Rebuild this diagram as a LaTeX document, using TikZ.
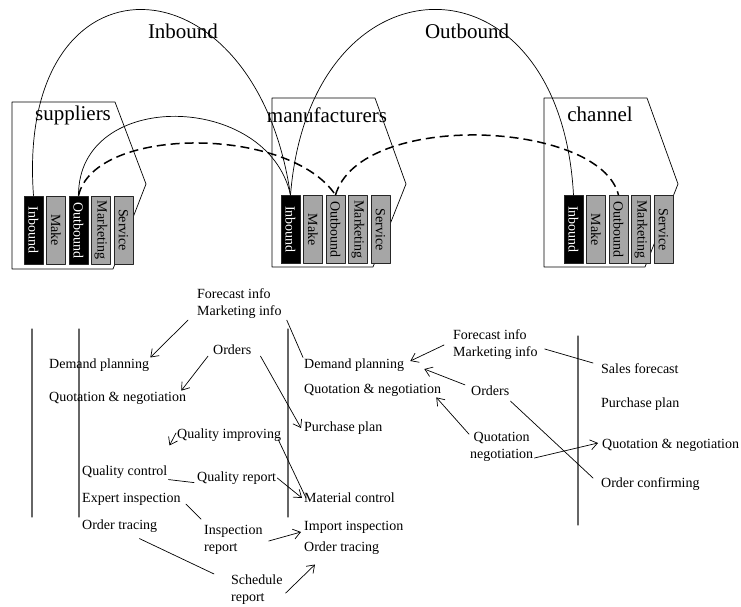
\documentclass[tikz,border=0pt]{standalone}
\usepackage{fontspec}
\setmainfont{Liberation Serif}
\usetikzlibrary{arrows.meta}

\begin{document}
\begin{tikzpicture}[x=1pt,y=-1pt,line cap=round,line join=round,
    >={Straight Barb[length=7pt,width=10pt]},
    lbl/.style={font=\fontsize{21}{25}\selectfont,inner sep=0pt},
    txt/.style={font=\fontsize{14}{17}\selectfont,inner sep=1pt,anchor=west},
    bar/.style={draw=black!85,line width=0.8pt,rotate=-90,minimum width=68pt,minimum height=19pt,inner sep=0pt,font=\fontsize{14}{14}\selectfont},
    dark/.style={bar,fill=black,text=white},
    light/.style={bar,fill=black!35},
    flow/.style={line width=0.7pt},
    dashflow/.style={line width=1.5pt,line cap=butt,dash pattern=on 9pt off 5pt},
    lane/.style={line width=1.2pt,black!60}]
    \useasboundingbox (0,0) rectangle (741,606);
    % the three partner boxes
    \foreach \L/\T/\B in {12/102/269, 272/98/267, 544/98/267}
        \draw[flow] (\L,\T) -- (\L+103,\T) -- (\L+134,184) -- (\L+101,\B) -- (\L,\B) -- cycle;
    \node[lbl] (sup) at (73,115) {suppliers};
    \node[lbl] (man) at (327,115) {manufacturers};
    \node[lbl] (chan) at (600,114) {channel};
    \foreach \nm/\tx/\st [count=\i from 0] in {In/Inbound/dark, Mk/Make/light, Out/Outbound/dark, Mt/Marketing/light, Sv/Service/light}
        \node[\st] (s\nm) at (33.5+22.5*\i,230) {\tx};
    \foreach \nm/\tx/\st [count=\i from 0] in {In/Inbound/dark, Mk/Make/light, Out/Outbound/light, Mt/Marketing/light, Sv/Service/light}
        \node[\st] (m\nm) at (290.5+22.5*\i,229.5) {\tx};
    \foreach \nm/\tx/\st [count=\i from 0] in {In/Inbound/dark, Mk/Make/light, Out/Outbound/light, Mt/Marketing/light, Sv/Service/light}
        \node[\st] (c\nm) at (573.5+22.5*\i,229.5) {\tx};
    % flows between the partners
    \node[lbl] (inb) at (183,31) {Inbound};
    \node[lbl] (outb) at (467,31) {Outbound};
    \draw[flow] (sIn.west) .. controls (15,-55) and (255,-50) .. (mIn.west);
    \draw[flow] (mIn.west) .. controls (310,-50) and (560,-55) .. (cIn.west);
    \draw[flow] (sOut.west) .. controls (78,88) and (268,92) .. (mIn.west);
    \draw[dashflow] (sOut.west) .. controls (95,125) and (290,126) .. (mOut.west);
    \draw[dashflow] (mOut.west) .. controls (360,110) and (600,120) .. (cOut.west);
    % lanes
    \draw[lane] (32,329) -- (32,517);
    \draw[lane] (79,329) -- (79,517);
    \draw[lane] (288,329) -- (288,517);
    \draw[lane] (578,336) -- (578,525);
    % supplier activities
    \node[txt] (dp1) at (48,365) {Demand planning};
    \node[txt] (qn1) at (48,398) {Quotation \& negotiation};
    \node[txt] (qc) at (81,472) {Quality control};
    \node[txt] (ei) at (81,499) {Expert inspection};
    \node[txt] (ot1) at (81,526) {Order tracing};
    \node[txt,align=left] (fm1) at (196,304) {Forecast info\\Marketing info};
    \node[txt] (or1) at (212,350) {Orders};
    \node[txt] (qi) at (176,435) {Quality improving};
    \node[txt] (qr) at (196,478) {Quality report};
    \node[txt,align=left] (ir) at (203,540) {Inspection\\report};
    \node[txt,align=left] (sr) at (230,590) {Schedule\\report};
    % manufacturer activities
    \node[txt] (dp2) at (303,365) {Demand planning};
    \node[txt] (qn2) at (303,390) {Quotation \& negotiation};
    \node[txt] (pp1) at (303,428) {Purchase plan};
    \node[txt] (mc) at (303,498) {Material control};
    \node[txt] (ii) at (303,527) {Import inspection};
    \node[txt] (ot2) at (303,548) {Order tracing};
    \node[txt,align=left] (fm2) at (452,345) {Forecast info\\Marketing info};
    \node[txt] (or2) at (470,391) {Orders};
    \node[txt,align=center] (qn3) at (469,447) {Quotation\\negotiation};
    % channel activities
    \node[txt] (sf) at (600,369) {Sales forecast};
    \node[txt] (pp2) at (600,404) {Purchase plan};
    \node[txt] (qn4) at (601,445) {Quotation \& negotiation};
    \node[txt] (oc) at (600,484) {Order confirming};
    % information links
    \draw[flow,->] ([xshift=-8pt]fm1.south west) -- (dp1.north east);
    \draw[flow,->] ([xshift=-4pt]or1.south west) -- ([xshift=-6pt]qn1.north east);
    \draw[flow,->] ([xshift=8pt]or1.south east) -- ([xshift=-2pt]pp1.west);
    \draw[flow] ([xshift=4pt]fm1.south east) -- (dp2.north west);
    \draw[flow,->] ([yshift=2pt]qi.west) -- ([xshift=1pt,yshift=19pt]qc.north east);
    \draw[flow] ([xshift=-4pt,yshift=3pt]qi.south east) -- ([xshift=3pt]mc.west);
    \draw[flow] (qc.south east) -- ([xshift=-2pt,yshift=3pt]qr.south west);
    \draw[flow,->] (qr.east) -- ([xshift=-1pt]mc.west);
    \draw[flow] ([xshift=4pt,yshift=-5pt]ei.east) -- ([xshift=-2pt,yshift=5pt]ir.north west);
    \draw[flow,->] ([xshift=5pt,yshift=-1pt]ir.east) -- ([xshift=-2pt,yshift=-5pt]ii.west);
    \draw[flow] ([xshift=-19pt,yshift=-5pt]ot1.south east) -- ([xshift=-16pt]sr.north west);
    \draw[flow,->] ([xshift=2pt,yshift=-3pt]sr.east) -- ([xshift=12pt,yshift=-9pt]ot2.south west);
    \draw[flow,->] ([xshift=-8pt]fm2.west) -- ([xshift=5pt,yshift=4pt]dp2.east);
    \draw[flow] ([xshift=6pt,yshift=-4pt]fm2.east) -- ([xshift=-7pt,yshift=6pt]sf.west);
    \draw[flow,->] ([xshift=-5pt]or2.north west) -- ([xshift=19pt,yshift=-4pt]dp2.east);
    \draw[flow,->] ([yshift=-3pt]qn3.north west) -- ([xshift=-6pt]qn2.south east);
    \draw[flow] ([yshift=-4pt]or2.south east) -- ([xshift=-7pt,yshift=6pt]oc.west);
    \draw[flow,->] ([yshift=-11pt]qn3.east) -- ([xshift=-3pt,yshift=2pt]qn4.west);
\end{tikzpicture}
\end{document}
